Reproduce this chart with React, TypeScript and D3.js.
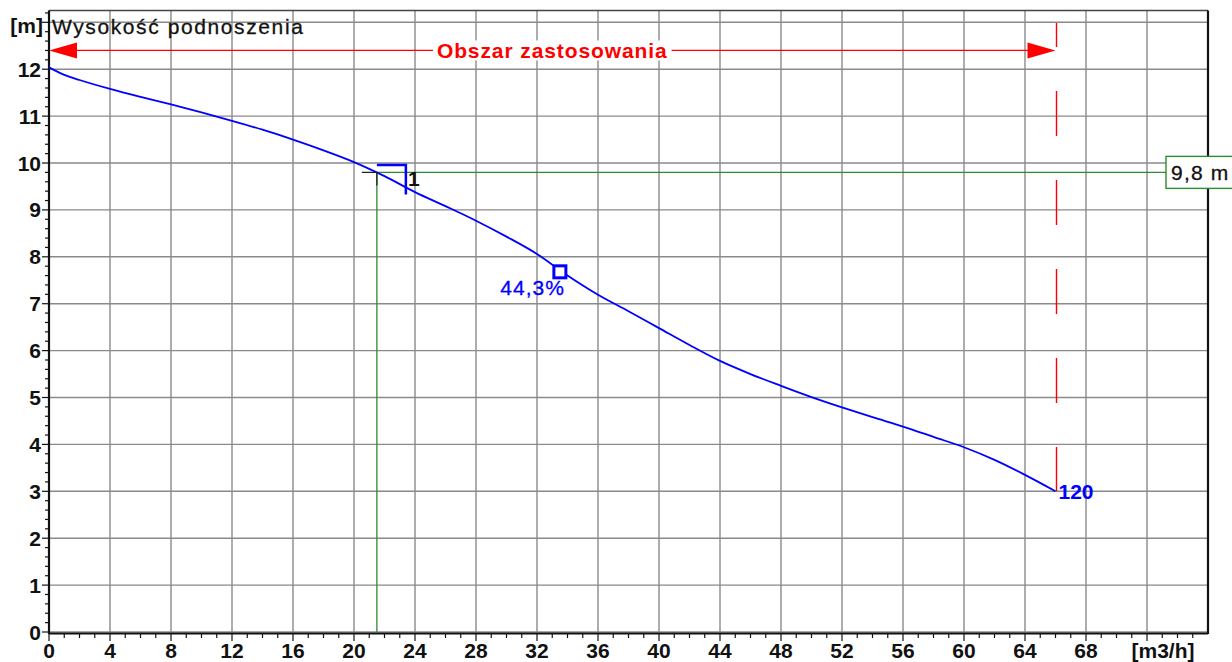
import { useEffect, useRef } from "react";
import * as d3 from "d3";

// pump curve: flow [m3/h] vs head [m]
const flow = [0, 1, 2, 4, 6, 8, 10, 12, 14, 16, 18, 20, 22, 24, 26, 28, 30, 32, 34, 36, 38, 40, 42, 44, 46, 48, 50, 52, 54, 56, 58, 60, 62, 64, 66];
const head = [12.04, 11.88, 11.77, 11.58, 11.41, 11.25, 11.08, 10.9, 10.71, 10.5, 10.27, 10.02, 9.72, 9.38, 9.08, 8.77, 8.43, 8.06, 7.6, 7.19, 6.84, 6.48, 6.12, 5.78, 5.5, 5.25, 5.01, 4.79, 4.58, 4.38, 4.16, 3.94, 3.67, 3.35, 3.0];

const xTicks = [0, 4, 8, 12, 16, 20, 24, 28, 32, 36, 40, 44, 48, 52, 56, 60, 64, 68, 72];
const xTickLabels = ["0", "4", "8", "12", "16", "20", "24", "28", "32", "36", "40", "44", "48", "52", "56", "60", "64", "68", "[m3/h]"];
const yTicks = [0, 1, 2, 3, 4, 5, 6, 7, 8, 9, 10, 11, 12, 13];
const yTickLabels = ["0", "1", "2", "3", "4", "5", "6", "7", "8", "9", "10", "11", "12", "[m]"];

const dutyFlow = 21.5;
const dutyHead = 9.8;
const dutyLabel = "9,8 m";
const bestEffFlow = 33.5;
const bestEffHead = 7.68;
const bestEffLabel = "44,3%";
const maxFlow = 66;
const curveLabel = "120";
const areaHead = 12.4;
const areaLabel = "Obszar zastosowania";
const title = "Wysokość podnoszenia";

const App = () => {
  const svgRef = useRef<SVGSVGElement>(null);

  useEffect(() => {
    const W = 1232;
    const H = 662;
    const svg = d3.select(svgRef.current).attr("width", W).attr("height", H);
    svg.selectAll("*").remove();
    const font = "'Liberation Sans', Arial, sans-serif";

    const x = d3.scaleLinear().domain([0, 76]).range([49, 1208]);
    const y = d3.scaleLinear().domain([0, 13.25]).range([632, 10.6]);

    // grid
    const grid = svg.append("g").attr("stroke", "#8a8a8a").attr("stroke-width", 1.4);
    xTicks.forEach((t) => {
      grid.append("line").attr("x1", x(t)).attr("x2", x(t)).attr("y1", y(13.25)).attr("y2", y(0));
    });
    yTicks.forEach((t) => {
      grid.append("line").attr("x1", x(0)).attr("x2", x(76)).attr("y1", y(t)).attr("y2", y(t));
    });

    // frame
    svg.append("line").attr("x1", x(0)).attr("x2", x(76)).attr("y1", y(13.25)).attr("y2", y(13.25)).attr("stroke", "#444").attr("stroke-width", 1.5);
    svg.append("line").attr("x1", x(76)).attr("x2", x(76)).attr("y1", y(13.25)).attr("y2", y(0) + 2).attr("stroke", "#111").attr("stroke-width", 2.2);
    svg.append("line").attr("x1", x(0)).attr("x2", x(76)).attr("y1", y(0) + 1.5).attr("y2", y(0) + 1.5).attr("stroke", "#111").attr("stroke-width", 2.2);
    svg.append("line").attr("x1", x(0)).attr("x2", x(0)).attr("y1", y(13.25)).attr("y2", y(0) + 2).attr("stroke", "#111").attr("stroke-width", 2.2);

    // x axis ticks
    const xt = svg.append("g").attr("stroke", "#111").attr("stroke-width", 1.2);
    d3.range(0, 76, 1).forEach((t) => {
      const major = t % 4 === 0;
      xt.append("line").attr("x1", x(t)).attr("x2", x(t)).attr("y1", y(0) + 2).attr("y2", y(0) + (major ? 9 : 6));
    });
    svg.append("g")
      .selectAll("text")
      .data(xTicks)
      .enter()
      .append("text")
      .attr("x", (d, i) => (i === xTicks.length - 1 ? x(d) + 16 : x(d)))
      .attr("y", 658)
      .attr("text-anchor", "middle")
      .attr("font-family", font)
      .attr("font-weight", "bold")
      .attr("font-size", 21)
      .attr("fill", "#111")
      .text((_, i) => xTickLabels[i]);

    // y axis ticks
    const yt = svg.append("g").attr("stroke", "#111").attr("stroke-width", 1.2);
    d3.range(0, 13.21, 0.2).forEach((t) => {
      const major = Math.abs(t - Math.round(t)) < 0.01;
      yt.append("line").attr("x1", x(0) - (major ? 7 : 4)).attr("x2", x(0)).attr("y1", y(t)).attr("y2", y(t));
    });
    svg.append("g")
      .selectAll("text")
      .data(yTicks)
      .enter()
      .append("text")
      .attr("x", (_, i) => (i === yTicks.length - 1 ? 43 : 41))
      .attr("y", (d, i) => (i === yTicks.length - 1 ? 33 : y(d) + 7.5))
      .attr("text-anchor", "end")
      .attr("font-family", font)
      .attr("font-weight", "bold")
      .attr("font-size", 21)
      .attr("fill", "#111")
      .text((_, i) => yTickLabels[i]);

    // title
    svg.append("text")
      .attr("x", 52)
      .attr("y", 34)
      .attr("font-family", font)
      .attr("font-size", 21)
      .attr("letter-spacing", 1.6)
      .attr("stroke", "#111")
      .attr("stroke-width", 0.3)
      .attr("fill", "#111")
      .text(title);

    // application range arrow
    const red = "#ff0000";
    const ay = y(areaHead);
    svg.append("line").attr("x1", x(0) + 10).attr("x2", x(maxFlow) - 10).attr("y1", ay).attr("y2", ay).attr("stroke", red).attr("stroke-width", 1.3);
    svg.append("path").attr("d", `M${x(0)},${ay}L${x(0) + 28},${ay - 8}L${x(0) + 28},${ay + 8}Z`).attr("fill", red);
    svg.append("path").attr("d", `M${x(maxFlow)},${ay}L${x(maxFlow) - 28},${ay - 8}L${x(maxFlow) - 28},${ay + 8}Z`).attr("fill", red);
    const areaText = svg.append("text")
      .attr("x", (x(0) + x(maxFlow)) / 2)
      .attr("y", ay + 7.5)
      .attr("text-anchor", "middle")
      .attr("font-family", font)
      .attr("font-weight", "bold")
      .attr("font-size", 21)
      .attr("letter-spacing", 0.9)
      .attr("fill", red)
      .text(areaLabel);
    const bb = (areaText.node() as SVGTextElement).getBBox();
    svg.insert("rect", () => areaText.node())
      .attr("x", bb.x - 4)
      .attr("y", ay - 10)
      .attr("width", bb.width + 8)
      .attr("height", 20)
      .attr("fill", "#fff");

    // dashed vertical limit
    const lx = Math.round(x(maxFlow)) + 0.5;
    svg.append("line")
      .attr("x1", lx).attr("x2", lx)
      .attr("y1", 23).attr("y2", y(3))
      .attr("stroke", red).attr("stroke-width", 1.4)
      .attr("stroke-dasharray", "45,44")
      .attr("stroke-dashoffset", 21);

    // duty point lines
    const green = "#2e8b2e";
    svg.append("line").attr("x1", x(dutyFlow)).attr("x2", x(dutyFlow)).attr("y1", y(dutyHead)).attr("y2", y(0)).attr("stroke", green).attr("stroke-width", 1.3);
    svg.append("line").attr("x1", x(dutyFlow)).attr("x2", 1168).attr("y1", y(dutyHead)).attr("y2", y(dutyHead)).attr("stroke", green).attr("stroke-width", 1.3);
    svg.append("rect").attr("x", 1166).attr("y", y(dutyHead) - 16).attr("width", 70).attr("height", 32).attr("fill", "#fff").attr("stroke", green).attr("stroke-width", 1.4);
    svg.append("text")
      .attr("x", 1171)
      .attr("y", y(dutyHead) + 8)
      .attr("font-family", font)
      .attr("font-size", 21)
      .attr("letter-spacing", 1.2)
      .attr("stroke", "#111")
      .attr("stroke-width", 0.3)
      .attr("fill", "#111")
      .text(dutyLabel);

    // curve
    const line = d3
      .line<number>()
      .x((_, i) => x(flow[i]))
      .y((d) => y(d))
      .curve(d3.curveMonotoneX);
    svg.append("path")
      .datum(head)
      .attr("fill", "none")
      .attr("stroke", "#0000ff")
      .attr("stroke-width", 1.8)
      .attr("d", line);

    // duty point marker
    const dx = x(dutyFlow);
    const dy = y(dutyHead);
    svg.append("path").attr("d", `M${dx - 15},${dy}H${dx}V${dy + 13}`).attr("fill", "none").attr("stroke", "#222").attr("stroke-width", 1.3);
    svg.append("path").attr("d", `M${dx},${dy - 7.5}H${dx + 29}V${dy + 22}`).attr("fill", "none").attr("stroke", "#0000ff").attr("stroke-width", 2.5);
    svg.append("text")
      .attr("x", dx + 31)
      .attr("y", dy + 14)
      .attr("font-family", font)
      .attr("font-weight", "bold")
      .attr("font-size", 21)
      .attr("fill", "#111")
      .text("1");

    // best efficiency marker
    const bx = x(bestEffFlow);
    const by = y(bestEffHead);
    svg.append("rect").attr("x", bx - 6).attr("y", by - 6).attr("width", 12).attr("height", 12).attr("fill", "#fff").attr("stroke", "#0000ff").attr("stroke-width", 3);
    svg.append("text")
      .attr("x", bx + 5)
      .attr("y", by + 23)
      .attr("text-anchor", "end")
      .attr("font-family", font)
      .attr("font-size", 21)
      .attr("letter-spacing", 1)
      .attr("stroke", "#0000ff")
      .attr("stroke-width", 0.3)
      .attr("fill", "#0000ff")
      .text(bestEffLabel);

    // curve end label
    svg.append("text")
      .attr("x", x(maxFlow) + 3)
      .attr("y", y(3) + 8)
      .attr("font-family", font)
      .attr("font-weight", "bold")
      .attr("font-size", 21)
      .attr("fill", "#0000ff")
      .text(curveLabel);
  }, []);

  return <svg ref={svgRef} style={{ position: "absolute", left: 0, top: 0 }}></svg>;
};

export default App;
